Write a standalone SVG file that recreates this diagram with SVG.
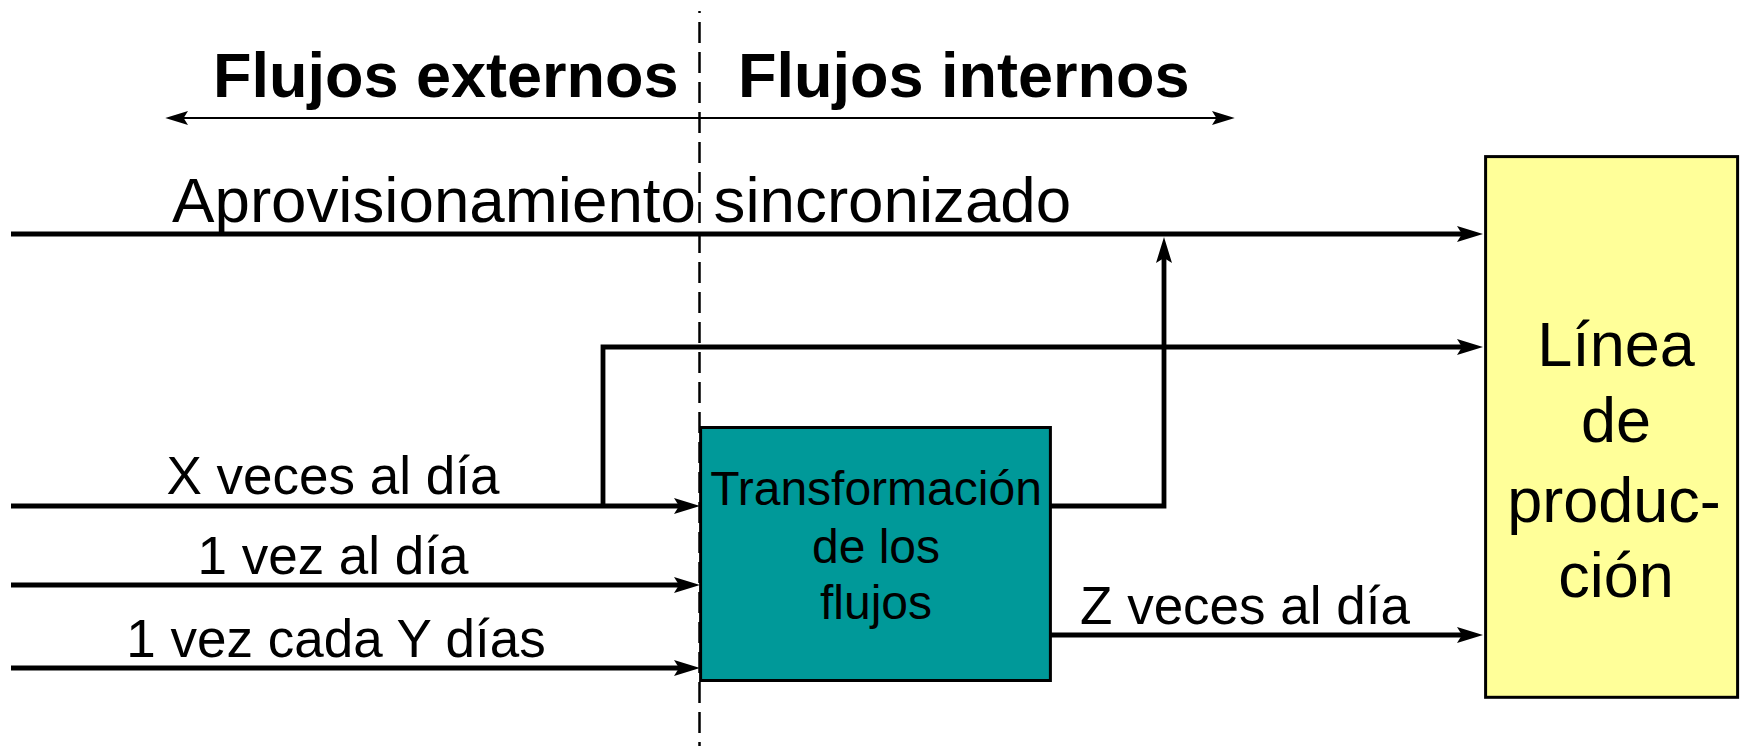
<svg xmlns="http://www.w3.org/2000/svg" width="1741" height="746" viewBox="0 0 1741 746">
<style>
text{font-family:"Liberation Sans",Arial,sans-serif;fill:#000}
.title{font-size:63px;font-weight:bold}
.lbl{font-size:53px;text-anchor:middle}
.flow{fill:none;stroke:#000;stroke-width:4.8;stroke-linejoin:miter}
.box{stroke:#000;stroke-width:3}
.bt{font-size:48px;text-anchor:middle}
.lt{font-size:63px;text-anchor:middle}
</style>
<defs>
<marker id="ah" viewBox="0 0 26 16" refX="14" refY="8" markerWidth="26" markerHeight="16" markerUnits="userSpaceOnUse" orient="auto-start-reverse">
<path d="M0,0 L26,8 L0,16 L5,8 z" fill="#000"/>
</marker>
<marker id="ahs" viewBox="0 0 26 16" refX="16" refY="8" markerWidth="24" markerHeight="14" markerUnits="userSpaceOnUse" orient="auto-start-reverse">
<path d="M0,0 L26,8 L0,16 L5,8 z" fill="#000"/>
</marker>
</defs>
<rect width="1741" height="746" fill="#fff"/>
<g id="headers">
<text class="title" x="213" y="97">Flujos externos</text>
<text class="title" x="738" y="97">Flujos internos</text>
</g>
<g id="divider">
<line x1="699.5" y1="11" x2="699.5" y2="746" stroke="#000" stroke-width="2.5" stroke-dasharray="21 9" stroke-dashoffset="19"/>
</g>
<g id="connectors">
<path d="M174,118 H1226" fill="none" stroke="#000" stroke-width="2.2" marker-start="url(#ahs)" marker-end="url(#ahs)"/>
<path class="flow" d="M11,234 H1471" marker-end="url(#ah)"/>
<path class="flow" d="M603,506 V347 H1471" marker-end="url(#ah)"/>
<path class="flow" d="M11,506 H688" marker-end="url(#ah)"/>
<path class="flow" d="M11,585 H688" marker-end="url(#ah)"/>
<path class="flow" d="M11,668 H688" marker-end="url(#ah)"/>
<path class="flow" d="M1050,506 H1164 V249" marker-end="url(#ah)"/>
<path class="flow" d="M1050,635 H1471" marker-end="url(#ah)"/>
</g>
<g id="labels">
<text x="172" y="222" style="font-size:63.7px">Aprovisionamiento sincronizado</text>
<text class="lbl" x="333" y="494">X veces al día</text>
<text class="lbl" x="333" y="574">1 vez al día</text>
<text class="lbl" x="336" y="657">1 vez cada Y días</text>
<text class="lbl" x="1245" y="624">Z veces al día</text>
</g>
<g id="transformacion">
<rect class="box" x="700.6" y="427.5" width="349.8" height="253" fill="#009999"/>
<text class="bt" x="876" y="505">Transformación</text>
<text class="bt" x="876" y="563">de los</text>
<text class="bt" x="876" y="619">flujos</text>
</g>
<g id="linea">
<rect class="box" x="1485.6" y="156.6" width="252" height="540.7" fill="#FFFF99" stroke-width="2.5"/>
<text class="lt" x="1616" y="366">Línea</text>
<text class="lt" x="1616" y="442">de</text>
<text class="lt" x="1614" y="522">produc-</text>
<text class="lt" x="1616" y="597">ción</text>
</g>
</svg>
